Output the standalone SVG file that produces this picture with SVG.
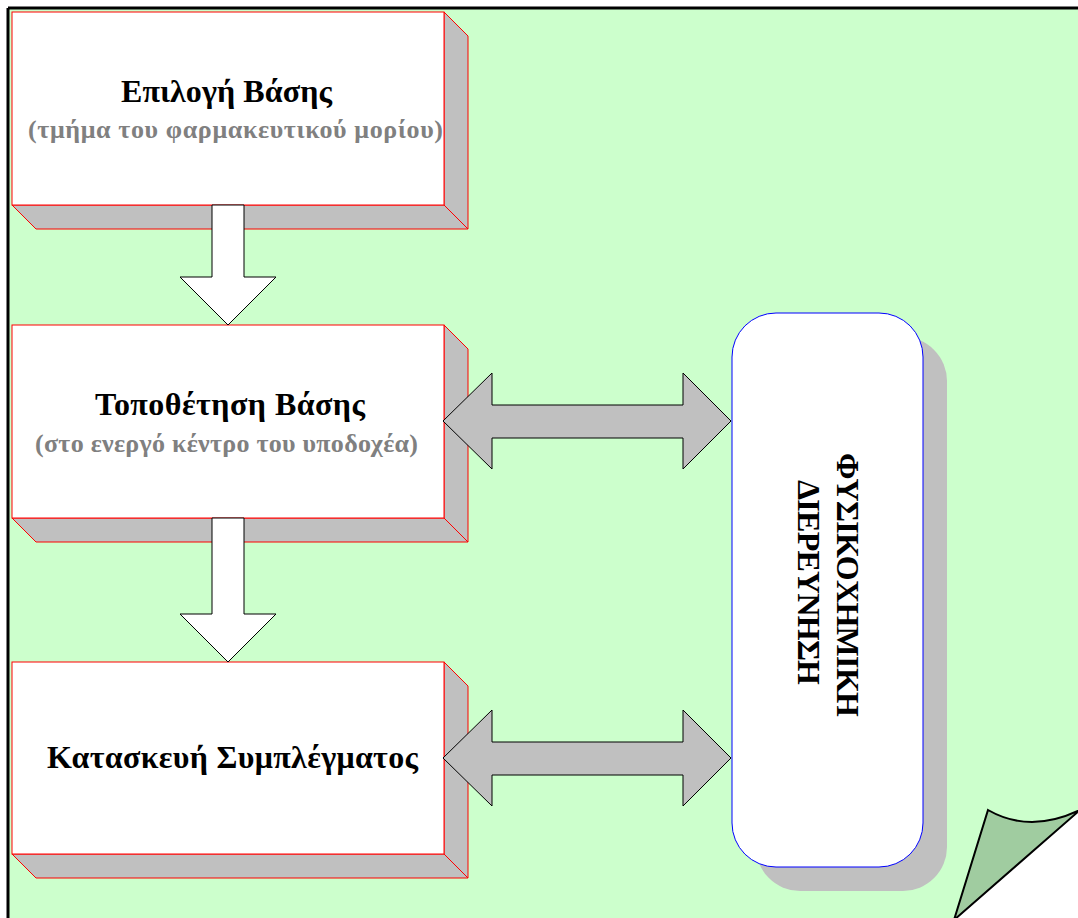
<svg xmlns="http://www.w3.org/2000/svg" width="1078" height="918" viewBox="0 0 1078 918">
  <style>
    .face { fill: #FFFFFF; stroke: #FF0000; stroke-width: 1; }
    .depth { fill: #C0C0C0; stroke: #FF0000; stroke-width: 1; stroke-linejoin: round; }
    .title { font-family: "Liberation Serif", "Times New Roman", serif; font-weight: bold; font-size: 32px; fill: #000000; text-anchor: middle; }
    .sub { font-family: "Liberation Serif", "Times New Roman", serif; font-weight: bold; font-size: 26px; fill: #808080; text-anchor: middle; }
    .down { fill: #FFFFFF; stroke: #000000; stroke-width: 1; }
    .both { fill: #C0C0C0; stroke: #000000; stroke-width: 1; }
  </style>

  <!-- page background with curled corner -->
  <g id="page">
    <rect x="0" y="0" width="1078" height="918" fill="#FFFFFF"/>
    <path d="M8,8 H1080 V811 L954,920 H8 Z" fill="#CCFFCC"/>
    <line x1="8" y1="8" x2="1080" y2="8" stroke="#000000" stroke-width="3"/>
    <line x1="8" y1="8" x2="8" y2="920" stroke="#000000" stroke-width="3"/>
    <path d="M988,810 Q1030,834 1080,810 L954,920 Z" fill="#A0CCA0" stroke="#000000" stroke-width="2" stroke-linejoin="miter"/>
  </g>

  <!-- step 1 -->
  <g id="node-epilogi">
    <polygon class="depth" points="444,12 468,36 468,229 444,205"/>
    <polygon class="depth" points="12,205 444,205 468,229 36,229"/>
    <rect class="face" x="12" y="12" width="432" height="193"/>
    <text class="title" x="226.5" y="102" textLength="211" lengthAdjust="spacing">Επιλογή Βάσης</text>
    <text class="sub" x="235.5" y="138" textLength="415" lengthAdjust="spacing">(τμήμα του φαρμακευτικού μορίου)</text>
  </g>

  <!-- step 2 -->
  <g id="node-topothetisi">
    <polygon class="depth" points="444,325 468,349 468,542 444,518"/>
    <polygon class="depth" points="12,518 444,518 468,542 36,542"/>
    <rect class="face" x="12" y="325" width="432" height="193"/>
    <text class="title" x="230" y="415" textLength="270" lengthAdjust="spacing">Τοποθέτηση Βάσης</text>
    <text class="sub" x="226.5" y="452" textLength="383" lengthAdjust="spacing">(στο ενεργό κέντρο του υποδοχέα)</text>
  </g>

  <!-- step 3 -->
  <g id="node-kataskevi">
    <polygon class="depth" points="444,662 468,686 468,878 444,854"/>
    <polygon class="depth" points="12,854 444,854 468,878 36,878"/>
    <rect class="face" x="12" y="662" width="432" height="192"/>
    <text class="title" x="232.5" y="768" textLength="371" lengthAdjust="spacing">Κατασκευή Συμπλέγματος</text>
  </g>

  <!-- physicochemical study -->
  <g id="node-fysikoximiki">
    <rect x="756" y="337" width="191" height="554" rx="44" ry="44" fill="#C0C0C0"/>
    <rect x="732" y="313" width="191" height="554" rx="44" ry="44" fill="#FFFFFF" stroke="#0000FF" stroke-width="1"/>
    <text class="title" transform="translate(837,585) rotate(90)" x="0" y="0" textLength="264" lengthAdjust="spacing">ΦΥΣΙΚΟΧΗΜΙΚΗ</text>
    <text class="title" transform="translate(798,582.5) rotate(90)" x="0" y="0" textLength="205" lengthAdjust="spacing">ΔΙΕΡΕΥΝΗΣΗ</text>
  </g>

  <!-- connectors -->
  <g id="connectors">
    <polygon class="down" points="212,205 244,205 244,277 276,277 228,325 180,277 212,277"/>
    <polygon class="down" points="212,518 244,518 244,614 276,614 228,662 180,614 212,614"/>
    <polygon class="both" points="443,421 492,373 492,405 683,405 683,373 731,421 683,469 683,438 492,438 492,469"/>
    <polygon class="both" points="443,758 492,710 492,742 683,742 683,710 731,758 683,806 683,775 492,775 492,806"/>
  </g>
</svg>
